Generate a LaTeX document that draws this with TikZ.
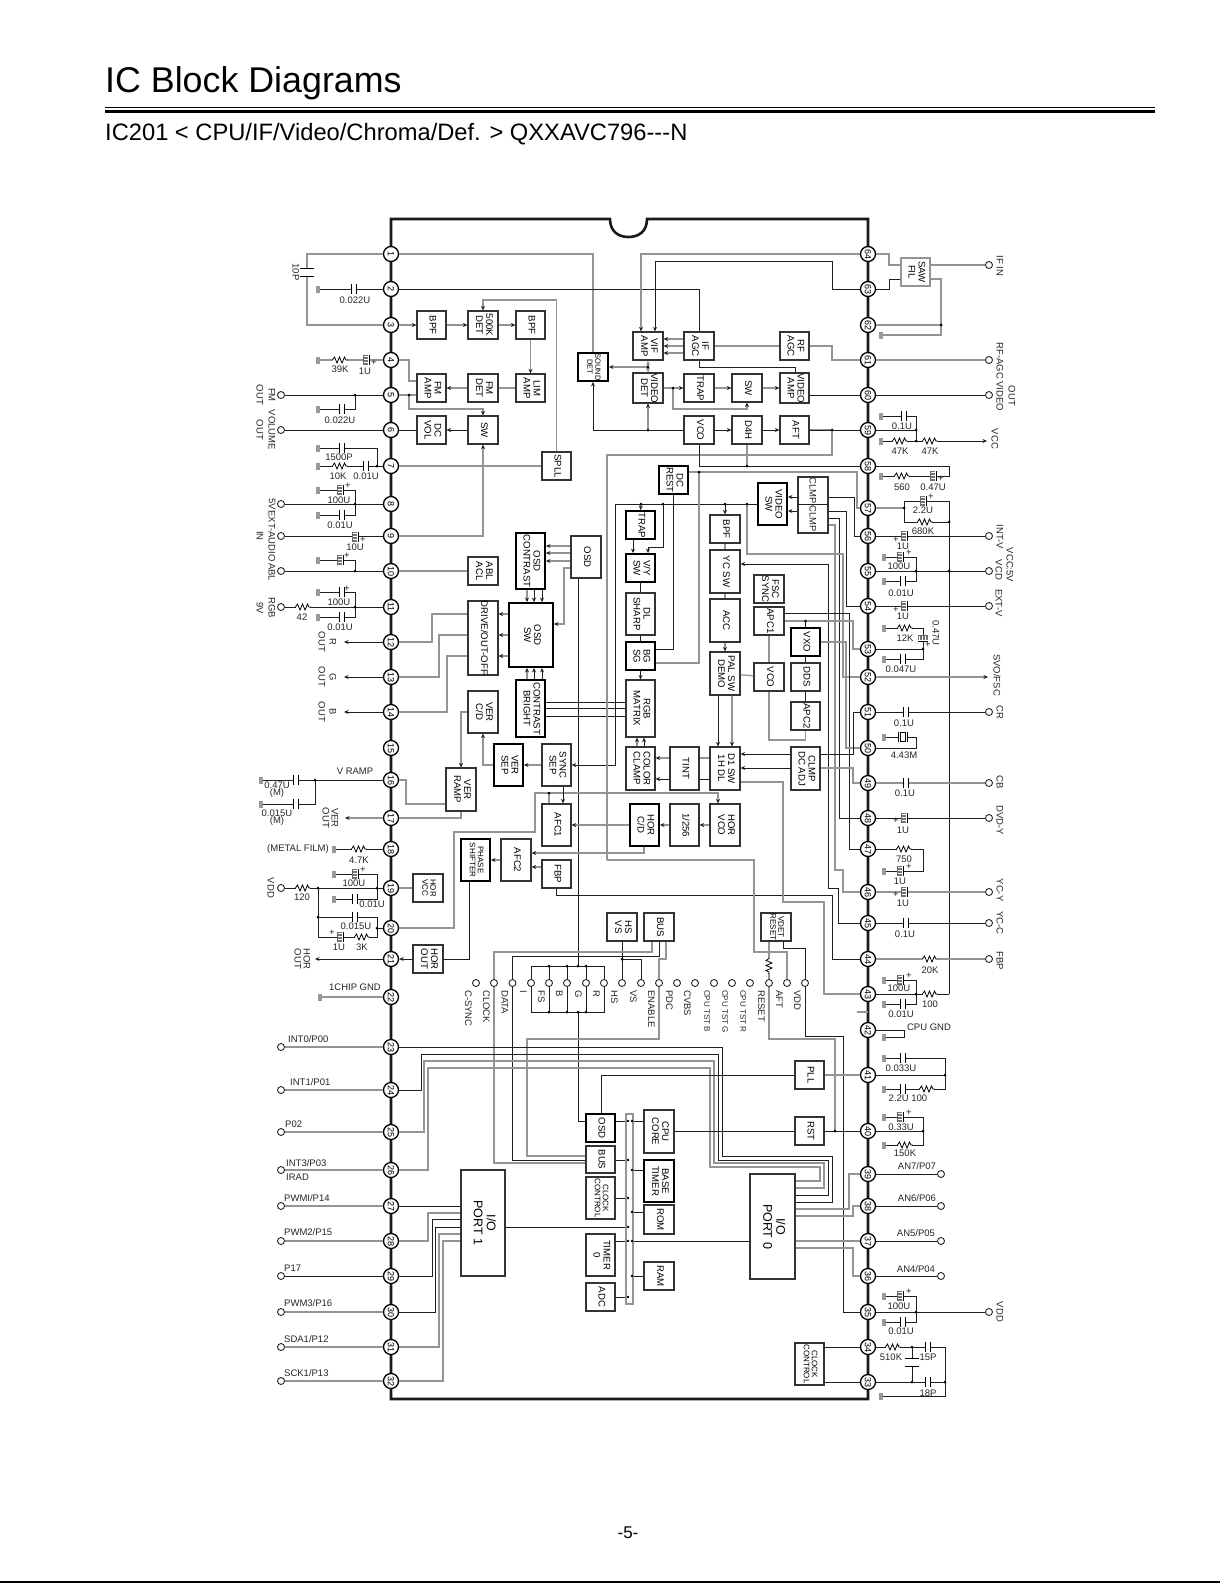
\documentclass[tikz,border=0pt]{standalone}
\usepackage{fontspec}
\usepackage{graphicx}
\setmainfont{Liberation Sans}
\usetikzlibrary{arrows.meta}
\newcount\lbn
\definecolor{wiregray}{gray}{0.58}
\definecolor{wireblk}{gray}{0.12}
\tikzset{
 gy/.style={draw=wiregray,line width=1.3pt},
 bk/.style={draw=wireblk,line width=0.9pt},
 ar/.style={-{Stealth[length=4.5pt,width=4pt,color=wireblk]}},
 bn/.style={draw=black!80,line width=1.2pt,fill=white,inner sep=0pt,font=\fontsize{9.6}{10}\selectfont},
 bt/.style={bn,draw=black,line width=1.9pt},
 bl/.style={bn,draw=wiregray},
 smf/.style={font=\fontsize{8}{8}\selectfont},
 xsf/.style={font=\fontsize{7.5}{8}\selectfont},
 bigf/.style={font=\fontsize{12.5}{13}\selectfont},
 pinnode/.style={circle,draw=black,line width=1.3pt,fill=white,minimum size=15pt,inner sep=0pt,rotate=-90,font=\fontsize{9}{9}\selectfont},
 term/.style={circle,draw=black!85,line width=0.9pt,fill=white,minimum size=7pt,inner sep=0pt},
 gnd/.style={rectangle,fill=black!40,minimum width=4pt,minimum height=7pt,inner sep=0pt},
 lab/.style={inner sep=0pt,font=\fontsize{9.5}{10}\selectfont,text=black!85},
 rlab/.style={lab,rotate=-90},
}
\newcommand\bx[7][bn]{\pgfmathsetmacro\bxw{#5-#3}\pgfmathsetmacro\bxh{#6-#4}\pgfmathsetmacro\bxx{(#3+#5)/2}\pgfmathsetmacro\bxy{(#4+#6)/2}%
 \node[#1,minimum width=\bxw pt,minimum height=\bxh pt] (#2) at (\bxx,\bxy) {\rotatebox{-90}{\begin{tabular}{@{}c@{}}#7\end{tabular}}};}
\newcommand\Lb[4][]{\global\advance\lbn 1 \node[lab,#1] (Lab\the\lbn) at (#2,#3) {#4};}
\newcommand\Rl[4][]{\global\advance\lbn 1 \node[rlab,#1] (Lab\the\lbn) at (#2,#3) {#4};}
\newcommand\Cap[2]{\begin{scope}[shift={(#1,#2)}]\fill[white] (-2.6,-5) rectangle (2.6,5);\draw[black,line width=0.9pt] (-2.6,-5)--(-2.6,5) (2.6,-5)--(2.6,5);\end{scope}}
\newcommand\CapV[2]{\begin{scope}[shift={(#1,#2)}]\fill[white] (-7,-4) rectangle (7,4);\draw[black,line width=0.9pt] (-7,-4)--(7,-4) (-7,4)--(7,4);\end{scope}}
\newcommand\Xtal[2]{\begin{scope}[shift={(#1,#2)}]\fill[white] (-4.5,-5) rectangle (4.5,5);\draw[black,line width=0.9pt] (-4.5,-5)--(-4.5,5) (4.5,-5)--(4.5,5);\draw[black,line width=0.9pt] (-2.2,-4.5) rectangle (2.2,4.5);\end{scope}}
\newcommand\Ele[4]{\begin{scope}[shift={(#1,#2)}]\fill[white] (-3.5,-5) rectangle (3.2,5);\draw[black!55,line width=0.35pt] (-3,-4.5)--(1.5,-4.5) (-3,-3)--(1.5,-3) (-3,-1.5)--(1.5,-1.5) (-3,0)--(1.5,0) (-3,1.5)--(1.5,1.5) (-3,3)--(1.5,3) (-3,4.5)--(1.5,4.5);\draw[black,line width=0.8pt] (3,-5)--(3,5);\draw[black!60,line width=0.4pt] (-3.2,-5)--(-3.2,5);\end{scope}\Lb{#3}{#4}{+}}
\newcommand\EleV[4]{\begin{scope}[shift={(#1,#2)}]\fill[white] (-5,-3.5) rectangle (5,3.2);\draw[black!55,line width=0.35pt] (-4.5,-3)--(-4.5,1.5) (-3,-3)--(-3,1.5) (-1.5,-3)--(-1.5,1.5) (0,-3)--(0,1.5) (1.5,-3)--(1.5,1.5) (3,-3)--(3,1.5) (4.5,-3)--(4.5,1.5);\draw[black,line width=0.8pt] (-5,3)--(5,3);\draw[black!60,line width=0.4pt] (-5,-3.2)--(5,-3.2);\end{scope}\Lb{#3}{#4}{+}}
\newcommand\Res[2]{\begin{scope}[shift={(#1,#2)}]\fill[white] (-7,-3) rectangle (7,3);\draw[black,line width=0.8pt] (-7.5,0)--(-5.5,-3)--(-3,3)--(-0.5,-3)--(2,3)--(4.5,-3)--(6,0)--(7.5,0);\end{scope}}
\newcommand\ResV[2]{\begin{scope}[shift={(#1,#2)}]\fill[white] (-3,-7) rectangle (3,7);\draw[black,line width=0.8pt] (0,-7.5)--(-3,-5.5)--(3,-3)--(-3,-0.5)--(3,2)--(-3,4.5)--(0,6)--(0,7.5);\end{scope}}
\begin{document}
\begin{tikzpicture}[x=1pt,y=-1pt]
\useasboundingbox (0,0) rectangle (1220,1583);
\fill[white] (0,0) rectangle (1220,1583);
% page furniture
\node[inner sep=0pt,anchor=base west,font=\fontsize{35.8}{36}\selectfont] (title) at (105,92.5) {IC Block Diagrams};
\node[inner sep=0pt,anchor=base west,font=\fontsize{23.7}{24}\selectfont] (subtitle) at (105,140) {IC201 < CPU/IF/Video/Chroma/Def. > QXXAVC796-{}-{}-N};
\draw[black,line width=1.1pt] (105,107.5) -- (1155,107.5);
\draw[black,line width=3pt] (105,111.5) -- (1155,111.5);
\node[inner sep=0pt,font=\fontsize{17}{18}\selectfont] (pageno) at (628,1533) {-5-};
\draw[black,line width=1.6pt] (0,1582) -- (1220,1582);
% chip outline
\draw[black!90,line width=2.6pt] (391,219) -- (610,219) .. controls (610,232) and (619,237) .. (628.5,237) .. controls (638,237) and (647,232) .. (647,219) -- (868,219) -- (868,1399) -- (391,1399) -- cycle;
% pins
\foreach \n/\y in {1/254,2/289,3/325,4/360,5/395,6/430,7/466,8/504,9/536,10/571,11/607,12/642,13/677,14/712,15/748,16/780,17/818,18/849,19/888,20/928,21/959,22/997,23/1047,24/1090,25/1132,26/1170,27/1206,28/1241,29/1276,30/1312,31/1347,32/1381}
  \node[pinnode] (p\n) at (391,\y) {\n};
\foreach \n/\y in {64/254,63/289,62/325,61/360,60/395,59/430,58/466,57/508,56/536,55/571,54/606,53/649,52/677,51/712,50/748,49/783,48/818,47/849,46/892,45/923,44/959,43/994,42/1030,41/1075,40/1131,39/1174,38/1206,37/1241,36/1276,35/1312,34/1347,33/1382}
  \node[pinnode] (p\n) at (868,\y) {\n};
% terminals
\foreach \n/\y in {5/395,6/430,8/504,9/536,10/571,11/607,19/888,23/1047,24/1090,25/1132,26/1170,27/1206,28/1241,29/1276,30/1312,31/1347,32/1381}
  \node[term] (tl\n) at (281,\y) {};
\foreach \n/\y in {64/265,61/360,60/395,56/536,55/571,54/606,51/712,49/783,48/818,46/892,45/923,44/959,35/1312}
  \node[term] (tr\n) at (989,\y) {};
\foreach \n/\y in {39/1174,38/1206,37/1241,36/1276}
  \node[term] (tr\n) at (941,\y) {};
\foreach \n/\x in {csync/476,clock/494,data/512.5,i/531,fs/549,b/567,g/586,r/604,hs/622,vs/641,en/659,pdc/677,cvbs/695,tb/714,tg/732,tr/750,rset/769,aft/787,vdd/805}
  \node[term] (m\n) at (\x,983) {};
% free arrow ends
\coordinate (cr) at (344,642);\coordinate (cg) at (344,677);\coordinate (cb) at (344,712);
\coordinate (cver) at (345,818);\coordinate (chor) at (315,959);
\coordinate (cvcc) at (987,441);\coordinate (cfsc) at (988,677);
% blocks
\bx{bpfa}{417}{311}{446}{339}{BPF}
\bx{deta}{468}{311}{498}{339}{500K\\DET}
\bx{bpfb}{516}{311}{545}{339}{BPF}
\bx{fmamp}{417}{374}{446}{402}{FM\\AMP}
\bx{fmdet}{468}{374}{498}{402}{FM\\DET}
\bx{limamp}{516}{374}{545}{402}{LIM\\AMP}
\bx{dcvol}{417}{416}{446}{444}{DC\\VOL}
\bx{swa}{468}{416}{498}{444}{SW}
\bx{spll}{542}{452}{571}{480}{SPLL}
\bx[bt,xsf]{sdet}{578}{353}{608}{381}{SOUND\\DET}
\bx[bt]{osdc}{516}{533}{545}{589}{OSD\\CONTRAST}
\bx{osd}{571}{536}{601}{578}{OSD}
\bx{abl}{468}{557}{498}{585}{ABL\\ACL}
\bx{vif}{633}{332}{663}{360}{VIF\\AMP}
\bx{ifagc}{684}{332}{714}{360}{IF\\AGC}
\bx{rfagc}{780}{332}{809}{360}{RF\\AGC}
\bx{vdet}{633}{374}{663}{402}{VIDEO\\DET}
\bx{trapa}{684}{374}{714}{402}{TRAP}
\bx{swb}{732}{374}{762}{402}{SW}
\bx{vamp}{780}{374}{809}{402}{VIDEO\\AMP}
\bx{vco}{684}{416}{714}{444}{VCO}
\bx{dfh}{732}{416}{762}{444}{D4H}
\bx{aft}{780}{416}{809}{444}{AFT}
\bx[bt]{dcrest}{659}{466}{688}{494}{DC\\REST}
\bx{clmp}{798}{477}{828}{533}{}
\bx[bt]{vsw}{758}{483}{787}{525}{VIDEO\\SW}
\bx[bt]{trapb}{626}{511}{655}{539}{TRAP}
\bx{bpfc}{710}{515}{740}{543}{BPF}
\bx[bt]{vysw}{626}{554}{655}{582}{V/Y\\SW}
\bx{ycsw}{710}{550}{740}{593}{YC SW}
\bx{fsc}{754}{575}{784}{603}{FSC\\SYNC}
\bx{dlsh}{626}{593}{655}{635}{DL\\SHARP}
\bx{acc}{710}{599}{740}{642}{ACC}
\bx{apca}{754}{607}{784}{635}{APC1}
\bx[bt]{vxo}{791}{628}{820}{656}{VXO}
\bx[bt]{bgsg}{626}{642}{655}{670}{BG\\SG}
\bx{pal}{710}{652}{740}{695}{PAL SW\\DEMO}
\bx{vcob}{754}{663}{784}{691}{VCO}
\bx{dds}{791}{663}{820}{691}{DDS}
\bx{apcb}{791}{702}{820}{730}{APC2}
\bx{rgb}{626}{680}{655}{737}{RGB\\MATRIX}
\bx{cclamp}{626}{747}{655}{790}{COLOR\\CLAMP}
\bx{tint}{670}{747}{699}{790}{TINT}
\bx{done}{710}{747}{740}{790}{D1 SW\\1H DL}
\bx{cdc}{791}{747}{820}{790}{CLMP\\DC ADJ}
\bx[bt]{hcd}{630}{804}{659}{846}{HOR\\C/D}
\bx{div}{670}{804}{699}{846}{1/256}
\bx{hvco}{710}{804}{740}{846}{HOR\\VCO}
\bx{hsvs}{607}{913}{637}{941}{HS\\VS}
\bx{busa}{644}{913}{674}{941}{BUS}
\bx[bn,smf]{vdr}{761}{913}{791}{941}{VDET\\RESET}
\bx{drive}{468}{603}{498}{673}{DRIVE/OUT-OFF}
\bx[bt]{osdsw}{509}{603}{553}{667}{OSD\\SW}
\bx[bt]{cbr}{516}{680}{545}{737}{CONTRAST\\BRIGHT}
\bx{vcd}{468}{691}{498}{733}{VER\\C/D}
\bx[bt]{vsep}{494}{744}{523}{786}{VER\\SEP}
\bx{ssep}{542}{744}{571}{786}{SYNC\\SEP}
\bx{vramp}{446}{768}{476}{811}{VER\\RAMP}
\bx{afca}{542}{804}{571}{846}{AFC1}
\bx{afcb}{501}{839}{531}{881}{AFC2}
\bx[bt,smf]{phase}{461}{839}{490}{881}{PHASE\\SHIFTER}
\bx{fbp}{542}{860}{571}{888}{FBP}
\bx[bn,smf]{hvcc}{413}{874}{443}{902}{HOR\\VCC}
\bx{hout}{413}{945}{443}{973}{HOR\\OUT}
\bx[bn,bigf]{pa}{461}{1170}{505}{1276}{I/O\\PORT 1}
\bx[bt]{osdb}{586}{1114}{615}{1142}{OSD}
\bx{busb}{586}{1146}{615}{1173}{BUS}
\bx[bn,smf]{ccka}{586}{1177}{615}{1219}{CLOCK\\CONTROL}
\bx{tim}{586}{1234}{615}{1276}{TIMER\\0}
\bx{adc}{586}{1283}{615}{1311}{ADC}
\bx[bl]{bar}{626}{1114}{633}{1304}{}
\bx{core}{644}{1110}{674}{1153}{CPU\\CORE}
\bx[bt]{base}{644}{1160}{674}{1202}{BASE\\TIMER}
\bx{rom}{644}{1205}{674}{1234}{ROM}
\bx{ram}{644}{1262}{674}{1290}{RAM}
\bx{pll}{795}{1061}{824}{1089}{PLL}
\bx{rst}{795}{1117}{824}{1145}{RST}
\bx[bn,bigf]{pz}{750}{1174}{795}{1279}{I/O\\PORT 0}
\bx[bn,smf]{cckb}{795}{1343}{824}{1385}{CLOCK\\CONTROL}
\bx[bl]{saw}{901}{258}{930}{286}{SAW\\FIL}
\Rl{813}{491}{CLMP}\Rl{813}{519}{CLMP}
% grounds
\foreach \n/\x/\y in {g2/318/289,g4/318/360,g5/318/409,g7a/318/448,g7b/318/466,g8a/318/490,g8b/318/515,g10/318/560,g11a/318/592,g11b/318/617,g16a/261/780,g16b/261/804,g18/334/849,g19a/334/874,g19b/334/899,g22/320/997,
 g62/881/335,g59a/881/416,g59b/881/441,g58/881/476,g55a/884/557,g55b/884/581,g53a/884/628,g53b/884/659,g50/884/737,g47/884/871,g43a/884/980,g43b/884/1004,g42/884/1037,g41a/884/1058,g41b/884/1089,g40a/884/1117,g40b/884/1145,g35a/884/1296,g35b/884/1322,g33/881/1396}
  \node[gnd] (\n) at (\x,\y) {};
% ---- wires, left side
\draw[gy] (p1) -- (307,254) -- (307,325) -- (p3);
\draw[gy] (p1) -- (593,254) -- (sdet.north);
\draw[bk] (g2) -- (p2);
\draw[bk] (p2) -- (699,289) -- (ifagc.north);
\draw[gy,ar] (p3) -- (bpfa);
\draw[gy,ar] (bpfa) -- (deta);
\draw[gy,ar] (deta) -- (bpfb);
\draw[gy,ar] (spll.north) -- (556.5,300) -- (483,300) -- (deta.north);
\draw[gy,ar] (bpfb.south) -- (limamp.north);
\draw[gy] (limamp) -- (fmdet);
\draw[gy,ar] (fmdet) -- (fmamp);
\draw[gy] (g4) -- (p4);
\draw[gy] (p4) -- (409,360) -- (409,381) -- (fmamp.west |- 0,381);
\draw[bk] (tl5) -- (p5);
\draw[bk] (g5) -- (355,409) -- (355,395);
\draw[gy] (p5) -- (fmamp.west |- 0,395);
\draw[gy,ar] (409,395) -- (409,409) -- (483,409) -- (swa.north);
\draw[bk] (tl6) -- (p6);
\draw[bk] (p6) -- (dcvol);
\draw[bk,ar] (swa) -- (dcvol);
\draw[gy,ar] (p9) -- (483,536) -- (swa.south);
\draw[gy] (p7) -- (spll);
\draw[bk] (g7a) -- (377,448) -- (377,466);
\draw[bk] (g7b) -- (p7);
\draw[bk] (tl8) -- (p8);
\draw[bk] (g8a) -- (355,490) -- (355,504);
\draw[bk] (g8b) -- (355,515) -- (355,504);
\draw[bk] (tl9) -- (p9);
\draw[bk] (tl10) -- (p10);
\draw[bk] (g10) -- (355,560) -- (355,571);
\draw[gy] (p10) -- (abl);
\draw[bk] (tl11) -- (p11);
\draw[bk] (g11a) -- (355,592) -- (355,607);
\draw[bk] (g11b) -- (355,617) -- (355,607);
\draw[bk,ar] (p12) -- (cr);
\draw[bk,ar] (p13) -- (cg);
\draw[bk,ar] (p14) -- (cb);
\draw[gy] (p12) -- (432,642) -- (432,614) -- (drive.west |- 0,614);
\draw[gy] (p13) -- (439,677) -- (439,635) -- (drive.west |- 0,635);
\draw[gy] (p14) -- (447,712) -- (447,656) -- (drive.west |- 0,656);
\foreach \y in {614,635,656} \draw[gy,ar] (osdsw.west |- 0,\y) -- (drive.east |- 0,\y);
\draw[gy,ar] (osdc.south -| 527,0) -- (osdsw.north -| 527,0);
\draw[bk,ar] (osdc.south -| 534,0) -- (osdsw.north -| 534,0);
\draw[bk,ar] (osdc.south -| 542,0) -- (osdsw.north -| 542,0);
\draw[gy,ar] (cbr.north -| 527,0) -- (osdsw.south -| 527,0);
\draw[bk,ar] (cbr.north -| 534,0) -- (osdsw.south -| 534,0);
\draw[bk,ar] (cbr.north -| 542,0) -- (osdsw.south -| 542,0);
\foreach \y in {546,553,561} \draw[gy,ar] (osd.west |- 0,\y) -- (osdc.east |- 0,\y);
\draw[gy,ar] (osd.west |- 0,568) -- (564,568) -- (564,624) -- (osdsw.east |- 0,624);
\draw[bk] (osd.south -| 578,0) -- (578,966);
\draw[bk] (578,1012) -- (578,1121) -- (osdb.west |- 0,1121);
\foreach \y in {702,708,716} \draw[bk] (cbr.east |- 0,\y) -- (rgb.west |- 0,\y);
\draw[gy,ar] (vcd.west |- 0,712) -- (461,712) -- (vramp.north -| 461,0);
\draw[gy,ar] (vsep.west) -- (483,765) -- (vcd.south);
\draw[gy,ar] (ssep) -- (vsep);
\draw[bk,ar] (vsw.west) -- (615,504) -- (615,765) -- (ssep.east);
\draw[bk] (g16a) -- (p16);
\draw[bk] (g16b) -- (315,804) -- (315,780);
\draw[gy] (p16) -- (406,780) -- (406,804) -- (vramp.west |- 0,804);
\draw[gy,ar] (vramp.south -| 461,0) -- (461,818) -- (p17) -- (cver);
\draw[bk] (g18) -- (p18);
\draw[bk] (tl19) -- (p19);
\draw[gy] (p19) -- (hvcc);
\draw[bk] (g19a) -- (377,874) -- (377,888);
\draw[bk] (g19b) -- (377,899) -- (377,888);
\draw[bk] (318,888) -- (318,937) -- (377,937) -- (377,928);
\draw[bk] (318,917) -- (377,917) -- (377,928);
\draw[bk] (377,928) -- (p20);
\draw[gy,ar] (p20) -- (454,928) -- (454,832) -- (535,832) -- (535,793) -- (718,793) -- (hvco.north -| 718,0);
\draw[gy] (549,793) -- (afca.north -| 549,0);
\draw[bk,ar] (ssep.south -| 563,0) -- (afca.north -| 563,0);
\draw[gy,ar] (hcd.west) -- (afca.east);
\draw[gy,ar] (div) -- (hcd);
\draw[gy,ar] (hvco) -- (div);
\draw[gy,ar] (hcd.south -| 644,0) -- (644,853) -- (afcb.east |- 0,853);
\draw[gy,ar] (fbp.west |- 0,867) -- (afcb.east |- 0,867);
\draw[gy,ar] (afcb) -- (phase);
\draw[bk] (phase.south -| 469,0) -- (469,959) -- (hout.east);
\draw[bk,ar] (hout.west) -- (p21);
\draw[bk,ar] (p21) -- (chor);
\draw[gy] (g22) -- (p22);
\draw[bk] (fbp.south) -- (556.5,895) -- (832,895) -- (832,959) -- (p44);
% middle terminals
\draw[bk] (mi) -- (531,966) -- (604,966) -- (mr);
\draw[bk] (mi) -- (531,1012) -- (604,1012) -- (mr);
\foreach \n/\x in {fs/549,b/567,g/586}{\draw[bk] (m\n) -- (\x,966);\draw[bk] (m\n) -- (\x,1012);}
\draw[bk] (hsvs.south -| 622,0) -- (mhs);
\draw[bk] (622,959) -- (641,959) -- (mvs);
\draw[gy] (mclock) -- (494,952) -- (652,952) -- (busa.south -| 652,0);
\draw[bk] (mdata) -- (512.5,956) -- (659,956) -- (busa.south -| 659,0);
\draw[gy] (men) -- (659,959) -- (666,959) -- (busa.south -| 666,0);
\draw[gy] (mclock) -- (494,1163) -- (busb.west |- 0,1163);
\draw[bk] (mdata) -- (512.5,1160) -- (busb.west |- 0,1160);
\draw[gy] (men) -- (659,1039) -- (527,1039) -- (527,1156) -- (busb.west |- 0,1156);
\draw[gy] (mrset) -- (769,1039) -- (835,1039) -- (835,1131);
\draw[gy] (vdr.south -| 769,0) -- (mrset);
\draw[gy] (607,860) -- (754,860) -- (754,952) -- (787,952) -- (maft);
\draw[bk] (vdr.south -| 783,0) -- (783,948) -- (805,948) -- (mvdd);
\draw[bk] (mvdd) -- (805,1036) -- (843,1036) -- (843,1312) -- (p35);
\draw[gy] (aft.east) -- (832,430) -- (832,455) -- (607,455) -- (607,860);
% ---- ports
\draw[gy] (tl23) -- (p23); \draw[gy] (tl24) -- (p24); \draw[gy] (tl25) -- (p25); \draw[gy] (tl26) -- (p26); \draw[gy] (tl27) -- (p27);\draw[gy] (tl28) -- (p28);\draw[bk] (tl29) -- (p29);\draw[gy] (tl30) -- (p30);\draw[gy] (tl31) -- (p31);\draw[gy] (tl32) -- (p32);
\draw[bk] (p23) -- (722,1047) -- (722,1156) -- (832,1156) -- (832,1202) -- (pz.east |- 0,1202);
\draw[bk] (p24) -- (421,1090) -- (421,1054) -- (718,1054) -- (718,1160) -- (828,1160) -- (828,1195) -- (pz.east |- 0,1195);
\draw[gy] (p25) -- (424,1132) -- (424,1061) -- (714,1061) -- (714,1163) -- (824,1163) -- (824,1188) -- (pz.east |- 0,1188);
\draw[gy] (p26) -- (428,1170) -- (428,1068) -- (710,1068) -- (710,1167) -- (820,1167) -- (820,1181) -- (pz.east |- 0,1181);
\draw[bk] (p27) -- (pa.west |- 0,1206);
\draw[gy] (p28) -- (428,1241) -- (428,1213) -- (pa.west |- 0,1213);
\draw[bk] (p29) -- (432,1276) -- (432,1219) -- (pa.west |- 0,1219);
\draw[bk] (p30) -- (435,1312) -- (435,1227) -- (pa.west |- 0,1227);
\draw[gy] (p31) -- (439,1347) -- (439,1234) -- (pa.west |- 0,1234);
\draw[gy] (p32) -- (443,1381) -- (443,1241) -- (pa.west |- 0,1241);
\draw[bk] (pa.east |- 0,1227) -- (bar.west |- 0,1227);
\draw[bk] (pz.west |- 0,1241) -- (bar.east |- 0,1241);
\draw[bk] (osdb.east |- 0,1121) -- (bar.west |- 0,1121);
\draw[bk] (busb.east |- 0,1160) -- (bar.west |- 0,1160);
\draw[bk] (ccka.east |- 0,1198) -- (bar.west |- 0,1198);
\draw[bk] (tim.east |- 0,1241) -- (bar.west |- 0,1241);
\draw[bk] (adc.east |- 0,1297) -- (bar.west |- 0,1297);
\draw[bk] (core.west |- 0,1121) -- (bar.east |- 0,1121);
\draw[bk] (base.west |- 0,1170) -- (bar.east |- 0,1170);
\draw[bk] (rom.west |- 0,1212) -- (bar.east |- 0,1212);
\draw[bk] (ram.west |- 0,1276) -- (bar.east |- 0,1276);
\draw[bk] (pll.west) -- (601,1075) -- (osdb.north -| 601,0);
\draw[gy] (pll.east) -- (p41);
\draw[bk] (core.east |- 0,1131) -- (rst.west |- 0,1131);
\draw[bk] (rst.east |- 0,1131) -- (p40);
\draw[gy] (pz.east |- 0,1209) -- (849,1209) -- (849,1174) -- (p39);
\draw[gy] (pz.east |- 0,1216) -- (853,1216) -- (853,1206) -- (p38);
\draw[gy] (pz.east |- 0,1241) -- (p37);
\draw[gy] (pz.east |- 0,1248) -- (853,1248) -- (853,1276) -- (p36);
\draw[bk] (p39) -- (tr39); \draw[bk] (p38) -- (tr38); \draw[bk] (p37) -- (tr37); \draw[bk] (p36) -- (tr36);
% ---- top right
\draw[gy,ar] (p64) -- (641,254) -- (vif.north -| 641,0);
\draw[bk,ar] (p63) -- (832,289) -- (832,261) -- (655,261) -- (vif.north -| 655,0);
\draw[gy] (p64) -- (889,254) -- (889,265) -- (saw.west |- 0,265);
\draw[bk] (p63) -- (889,289) -- (889,279) -- (saw.west |- 0,279);
\draw[gy] (saw.east |- 0,265) -- (tr64);
\draw[gy] (saw.east |- 0,279) -- (941,279) -- (941,335) -- (g62);
\draw[gy] (p62) -- (941,325);
\foreach \y in {339,346,353} \draw[gy,ar] (ifagc.west |- 0,\y) -- (vif.east |- 0,\y);
\draw[gy] (rfagc) -- (ifagc);
\draw[gy] (rfagc.east) -- (832,346) -- (832,360) -- (p61) -- (tr61);
\draw[bk] (ifagc.south) -- (699,367) -- (795,367) -- (vamp.north -| 795,0);
\draw[gy,{Stealth[length=4.5pt,width=4pt]}-{Stealth[length=4.5pt,width=4pt]}] (vif.south) -- (vdet.north);
\draw[gy,ar] (648,367) -- (sdet.east |- 0,367);
\draw[gy,ar] (vdet.east) -- (trapa);
\draw[gy,ar] (trapa) -- (swb);
\draw[gy,ar] (swb) -- (vamp);
\draw[gy,ar] (673,388) -- (673,409) -- (747,409) -- (swb.south);
\draw[bk] (vamp.east |- 0,395) -- (p60) -- (tr60);
\draw[bk,ar] (vco.west) -- (593,430) -- (sdet.south);
\draw[gy,ar] (648,430) -- (vdet.south);
\draw[bk,ar] (vco) -- (dfh);
\draw[bk,ar] (dfh) -- (aft);
\draw[bk] (aft.east) -- (p59);
\draw[bk] (p59) -- (916,430);
\draw[bk] (g59a) -- (916,416) -- (916,441);
\draw[bk,ar] (g59b) -- (cvcc);
\draw[bk] (vco.south) -- (699,466) -- (p58);
\draw[gy] (dfh.south) -- (747,466);
\draw[bk] (p58) -- (949,466) -- (949,476) -- (g58);
\draw[gy] (dcrest.east |- 0,472) -- (857,472) -- (857,508) -- (p57);
\draw[gy] (699,472) -- (699,663) -- (bgsg.east |- 0,663);
\draw[bk] (dcrest.south) -- (673.5,649) -- (bgsg.east |- 0,649);
\draw[gy] (p57) -- (904,508);
\draw[bk] (904,508) -- (904,501) -- (949,501) -- (949,994);
\draw[bk] (904,508) -- (904,522) -- (949,522);
\draw[bk,ar] (clmp.west |- 0,497) -- (vsw.east |- 0,497);
\draw[bk,ar] (clmp.west |- 0,511) -- (vsw.east |- 0,511);
\draw[bk] (clmp.west |- 0,504) -- (clmp.east |- 0,504);
\draw[bk,ar] (641,504) -- (trapb.north);
\draw[bk,ar] (663,504) -- (663,547) -- (648,547) -- (vysw.north -| 648,0);
\draw[bk,ar] (725,504) -- (bpfc.north);
\draw[bk,ar] (trapb.south -| 633,0) -- (vysw.north -| 633,0);
\draw[bk] (vysw.south) -- (dlsh.north);
\draw[bk] (dlsh.south) -- (bgsg.north);
\draw[bk,ar] (bgsg.south) -- (rgb.north);
\draw[gy,ar] (cclamp.north -| 637,0) -- (rgb.south -| 637,0);
\draw[bk,ar] (cclamp.north -| 644,0) -- (rgb.south -| 644,0);
\draw[gy,ar] (tint.west |- 0,758) -- (cclamp.east |- 0,758);
\draw[bk,ar] (tint.west |- 0,779) -- (cclamp.east |- 0,779);
\draw[gy] (done.west |- 0,758) -- (tint.east |- 0,758);
\draw[bk] (done.west |- 0,779) -- (tint.east |- 0,779);
\draw[gy] (bpfc.south) -- (ycsw.north);
\draw[gy] (ycsw.south) -- (acc.north);
\draw[gy,ar] (acc.south) -- (pal.north);
\draw[bk,ar] (pal.south -| 718,0) -- (done.north -| 718,0);
\draw[gy,ar] (pal.south -| 732,0) -- (done.north -| 732,0);
\draw[gy] (pal) -- (vcob);
\draw[gy] (apca.south) -- (vcob.north);
\draw[gy] (vcob.south) -- (769,740) -- (805.5,740) -- (apcb.south);
\draw[bk] (vxo.south) -- (dds.north);
\draw[bk] (dds.south) -- (apcb.north);
\draw[bk] (vxo.north) -- (805.5,621);
% right column
\draw[bk,ar] (828,564) -- (ycsw.east |- 0,564);
\draw[bk] (828,564) -- (828,888) -- (838,888) -- (838,923) -- (p45);
\draw[bk] (clmp.east |- 0,497) -- (854,497) -- (854,536) -- (p56);
\draw[bk] (clmp.east |- 0,511) -- (846,511) -- (846,606) -- (p54);
\draw[bk] (clmp.east |- 0,518) -- (839,518) -- (839,818) -- (p48);
\draw[gy] (clmp.east |- 0,525) -- (835,525) -- (835,870) -- (843,870) -- (843,892) -- (p46);
\draw[gy] (747,504) -- (747,554) -- (843,554) -- (843,677) -- (p52);
\draw[bk] (apca.east |- 0,613) -- (849,613) -- (849,849) -- (p47);
\draw[gy] (apca.east |- 0,621) -- (853,621) -- (853,649) -- (p53);
\draw[gy] (vxo.east) -- (846,642) -- (846,748) -- (p50);
\draw[gy,ar] (p52) -- (cfsc);
\draw[bk,ar] (cdc.west |- 0,754) -- (done.east |- 0,754);
\draw[bk,ar] (cdc.west |- 0,768) -- (done.east |- 0,768);
\draw[bk] (cdc.east |- 0,754) -- (853,754) -- (853,712) -- (p51);
\draw[gy] (cdc.east |- 0,768) -- (853,768) -- (853,783) -- (p49);
\draw[gy] (done.east |- 0,782) -- (783,782) -- (783,902) -- (824,902) -- (824,994) -- (p43);
\draw[bk] (p56) -- (tr56);
\draw[bk] (p55) -- (tr55);
\draw[bk] (g55a) -- (916,557) -- (916,581) -- (g55b);
\draw[bk] (p54) -- (tr54);
\draw[bk] (p53) -- (923,649) -- (923,628) -- (g53a);
\draw[bk] (g53b) -- (923,659) -- (923,649);
\draw[bk] (p51) -- (tr51);
\draw[bk] (p50) -- (916,748) -- (916,737) -- (g50);
\draw[gy] (p49) -- (tr49);
\draw[bk] (p48) -- (tr48);
\draw[bk] (p47) -- (923,849) -- (923,871) -- (g47);
\draw[gy] (p46) -- (tr46);
\draw[bk] (p45) -- (tr45);
\draw[gy] (p44) -- (tr44);
\draw[bk] (p43) -- (949,994);
\draw[bk] (g43a) -- (916,980) -- (916,1004) -- (g43b);
\draw[gy] (857,1012) -- (868,1012);
\draw[bk] (p42) -- (904,1030) -- (904,1037) -- (g42);
\draw[bk] (p41) -- (945,1075);
\draw[bk] (g41a) -- (945,1058) -- (945,1089) -- (g41b);
\draw[bk] (p40) -- (923,1131);
\draw[bk] (g40a) -- (923,1117) -- (923,1145) -- (g40b);
\draw[bk] (p35) -- (tr35);
\draw[bk] (g35a) -- (916,1296) -- (916,1322) -- (g35b);
\draw[bk] (p34) -- (945,1347) -- (945,1396) -- (g33);
\draw[bk] (p33) -- (945,1382);
\draw[bk] (912,1347) -- (912,1382);
\draw[bk] (cckb.east |- 0,1347) -- (p34);
\draw[bk] (cckb.east |- 0,1382) -- (p33);
% dots
\foreach \x/\y in {355/395,409/395,377/466,355/504,355/571,355/607,315/780,318/888,377/888,318/917,377/928,549/966,567/966,578/966,586/966,549/1012,567/1012,578/1012,586/1012,622/959,549/793,
 648/367,673/388,648/430,832/430,916/430,916/441,747/466,699/472,904/508,641/504,663/504,725/504,747/504,949/522,916/571,949/571,923/649,805.5/621,941/325,916/994,835/1131,945/1075,923/1131,916/1312,912/1347,912/1382,945/1382}
  \fill[black] (\x,\y) circle (1.5pt);
\foreach \x/\y in {628/1121,628/1160,628/1198,628/1227,628/1241,628/1297,632/1121,632/1170,632/1212,632/1241,632/1276}
  \fill[black] (\x,\y) circle (1.3pt);
% ---- passives left
\CapV{307}{272}\Rl{296}{272}{10P}
\Cap{354}{289}\Lb{355}{300}{0.022U}
\Res{340}{360}\Ele{366}{360}{374}{363}\Lb{340}{369}{39K}\Lb{365}{371}{1U}
\Cap{342}{409}\Lb{340}{420}{0.022U}
\Cap{342}{448}\Lb{339}{457}{1500P}
\Res{340}{466}\Cap{366}{466}\Lb{338}{476}{10K}\Lb{366}{476}{0.01U}
\Ele{340}{490}{348}{486}\Lb{339}{500}{100U}
\Cap{342}{515}\Lb{340}{525}{0.01U}
\Ele{355}{537}{363}{540}\Lb{355}{547}{10U}
\Ele{340}{560}{347}{556}
\Cap{342}{592}\Lb{347}{589}{+}\Lb{339}{602}{100U}
\Res{303}{607}\Lb{302}{617}{42}
\Cap{342}{617}\Lb{340}{627}{0.01U}
\Cap{296}{780}\Cap{296}{804}
\Lb{277}{785}{0.47U}\Lb{277}{793}{(M)}\Lb{277}{813}{0.015U}\Lb{277}{821}{(M)}\Lb{355}{771}{V RAMP}
\Res{359}{849}\Lb{359}{860}{4.7K}\Lb[anchor=east]{329}{849}{(METAL FILM)}
\Ele{355}{874}{363}{870}\Lb{354}{883}{100U}
\Res{303}{888}\Lb{302}{897}{120}
\Cap{355}{899}\Lb{372}{904}{0.01U}
\Cap{355}{917}\Lb{356}{926}{0.015U}
\Ele{340}{937}{332}{933}\Res{362}{937}\Lb{339}{947}{1U}\Lb{362}{947}{3K}
\Lb{355}{987}{1CHIP GND}
% left rotated labels
\Rl{272}{395}{FM}\Rl{260}{395}{OUT}\Rl{272}{430}{VOLUME}\Rl{260}{430}{OUT}
\Rl{272}{504}{5V}\Rl{272}{536}{EXT-AUDIO}\Rl{260}{536}{IN}\Rl{272}{572}{ABL}\Rl{272}{608}{RGB}\Rl{260}{608}{9V}
\Rl{333}{642}{R}\Rl{322}{642}{OUT}\Rl{333}{677}{G}\Rl{322}{677}{OUT}\Rl{333}{712}{B}\Rl{322}{712}{OUT}
\Rl{335}{818}{VER}\Rl{326}{818}{OUT}\Rl{271}{888}{VDD}\Rl{307}{959}{HOR}\Rl{298}{959}{OUT}
% port labels left
\Lb[anchor=west]{288}{1039}{INT0/P00}\Lb[anchor=west]{290}{1082}{INT1/P01}\Lb[anchor=west]{285}{1124}{P02}
\Lb[anchor=west]{286}{1163}{INT3/P03}\Lb[anchor=west]{286}{1177}{IRAD}\Lb[anchor=west]{284}{1198}{PWMI/P14}
\Lb[anchor=west]{284}{1232}{PWM2/P15}\Lb[anchor=west]{284}{1268}{P17}\Lb[anchor=west]{284}{1303}{PWM3/P16}
\Lb[anchor=west]{284}{1339}{SDA1/P12}\Lb[anchor=west]{284}{1373}{SCK1/P13}
% middle labels
\foreach \x/\t in {468.5/C-SYNC,486.5/CLOCK,505/DATA,523.5/I,541.5/FS,559.5/B,578.5/G,596.5/R,614.5/HS,633.5/VS,651.5/ENABLE,669.5/PDC,687.5/CVBS,761.5/RESET,779.5/AFT,797.5/VDD}
  {\Rl[anchor=west]{\x}{990}{\t}}
\foreach \x/\t in {707/CPU TST B,725/CPU TST G,743/CPU TST R}
  {\Rl[anchor=west,font=\fontsize{8}{8}\selectfont]{\x}{990}{\t}}
\ResV{769}{966}
% ---- passives right
\Cap{904}{416}\Lb{902}{426}{0.1U}
\Res{900}{441}\Res{930}{441}\Lb{900}{451}{47K}\Lb{930}{451}{47K}
\Res{902}{476}\Ele{933}{476}{941}{479}\Lb{902}{487}{560}\Lb{933}{487}{0.47U}
\Ele{923}{501}{931}{497}\Lb{923}{510}{2.2U}
\Res{925}{522}\Lb{923}{531}{680K}
\Ele{904}{536}{896}{540}\Lb{903}{546}{1U}
\Ele{900}{557}{909}{553}\Lb{899}{566}{100U}
\Cap{903}{581}\Lb{901}{593}{0.01U}
\Ele{904}{606}{896}{610}\Lb{903}{616}{1U}
\Res{905}{628}\Lb{905}{638}{12K}
\EleV{923}{638}{928}{645}\Rl{936}{633}{0.47U}
\Cap{903}{659}\Lb{901}{669}{0.047U}
\Cap{906}{712}\Lb{904}{723}{0.1U}
\Xtal{903}{737}\Lb{904}{755}{4.43M}
\Cap{906}{783}\Lb{905}{793}{0.1U}
\Ele{904}{818}{896}{821}\Lb{903}{830}{1U}
\Res{904}{849}\Lb{904}{859}{750}
\Ele{900}{871}{909}{867}\Lb{900}{881}{1U}
\Ele{904}{892}{896}{895}\Lb{903}{903}{1U}
\Cap{906}{923}\Lb{905}{934}{0.1U}
\Res{930}{959}\Lb{930}{970}{20K}
\Ele{900}{980}{909}{976}\Lb{899}{988}{100U}
\Res{930}{994}\Lb{930}{1004}{100}
\Cap{903}{1004}\Lb{901}{1014}{0.01U}
\Lb{929}{1027}{CPU GND}
\Cap{903}{1058}\Lb{901}{1068}{0.033U}
\Cap{903}{1089}\Res{927}{1089}\Lb{908}{1098}{2.2U 100}
\Ele{900}{1117}{909}{1113}\Lb{901}{1127}{0.33U}
\Res{905}{1145}\Lb{905}{1153}{150K}
\Ele{900}{1296}{909}{1292}\Lb{899}{1306}{100U}
\Cap{903}{1322}\Lb{901}{1331}{0.01U}
\Res{893}{1347}\Lb{891}{1357}{510K}
\Cap{928}{1347}\Lb{928}{1357}{15P}
\CapV{912}{1362}\Cap{928}{1382}\Lb{928}{1393}{18P}
\Lb{917}{1166}{AN7/P07}\Lb{917}{1198}{AN6/P06}\Lb{916}{1233}{AN5/P05}\Lb{916}{1269}{AN4/P04}
% right rotated labels
\Rl{1000}{266}{IF IN}\Rl{1000}{361}{RF-AGC}\Rl{1000}{396}{VIDEO}\Rl{1012}{396}{OUT}\Rl{995}{439}{VCC}
\Rl{1000}{537}{INT-V}\Rl{1010}{565}{VCC:5V}\Rl{999}{570}{VCD}\Rl{999}{603}{EXT-V}\Rl{997}{675}{SVO/FSC}
\Rl{1000}{712}{CR}\Rl{1000}{782}{CB}\Rl{1000}{820}{DVD-Y}\Rl{1000}{890}{YC-Y}\Rl{1000}{923}{YC-C}\Rl{1000}{961}{FBP}\Rl{1000}{1312}{VDD}
\end{tikzpicture}
\end{document}
